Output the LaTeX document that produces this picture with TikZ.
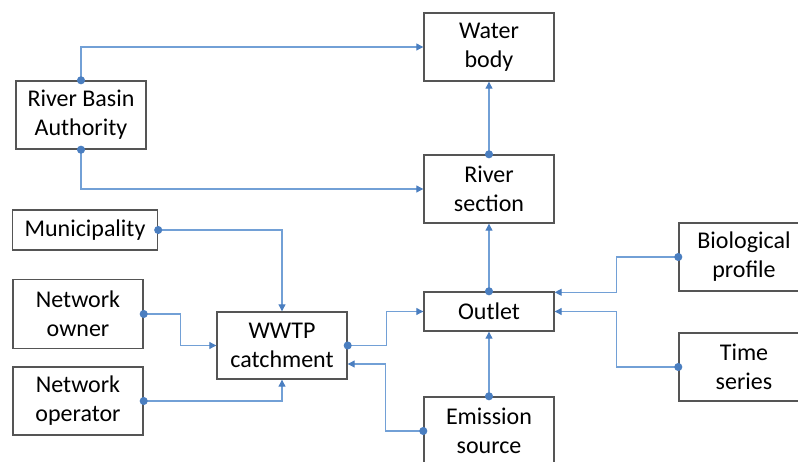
\documentclass[tikz,border=0pt]{standalone}
\usepackage{fontspec}
\setmainfont{Carlito}
\usetikzlibrary{arrows.meta}
\definecolor{conn}{HTML}{72A0D6}
\definecolor{dotc}{HTML}{4A7EC0}
\definecolor{boxline}{HTML}{555555}
\tikzset{
  box/.style={draw=boxline, line width=1.4pt, fill=white, inner sep=0pt, align=center,
    minimum width=130pt, minimum height=68pt, font=\fontsize{24}{29}\selectfont},
  link/.style={draw=conn, line width=1.1pt, shorten <=-4pt,
    {Circle[length=8pt,color=dotc]}-{Triangle[length=7pt,width=7pt,color=dotc]}},
}
\begin{document}
\begin{tikzpicture}[x=1pt,y=-1pt]
\useasboundingbox (0,0) rectangle (798,462);
\node[box] (water) at (489,47) {Water\\body};
\node[box] (rba) at (81,115) {River Basin\\Authority};
\node[box] (river) at (489,189) {River\\section};
\node[box, minimum width=145pt, minimum height=40pt] (muni) at (85,230) {Municipality};
\node[box] (bio) at (744,257) {Biological\\profile};
\node[box, minimum height=39pt] (outlet) at (489,311.5) {Outlet};
\node[box, minimum height=69pt] (owner) at (78,314) {Network\\owner};
\node[box, minimum height=67pt] (wwtp) at (282,345.5) {WWTP\\catchment};
\node[box] (ts) at (744,367) {Time\\series};
\node[box] (operator) at (78,401) {Network\\operator};
\node[box] (emission) at (489,431) {Emission\\source};

\draw[link] (rba.north) |- (water.west);
\draw[link] (rba.south) |- (river.west);
\draw[link] (river.north) -- (water.south);
\draw[link] (outlet.north) -- (river.south);
\draw[link] (muni.east) -| (wwtp.north);
\draw[link] (owner.east) -- ++(37,0) |- (wwtp.west);
\draw[link] (operator.east) -| (wwtp.south);
\draw[link] (wwtp.east) -- ++(39,0) |- (outlet.west);
\draw[link] (emission.west) -- ++(-38,0) |- ([yshift=-18.5pt]wwtp.east);
\draw[link] (emission.north) -- (outlet.south);
\draw[link] (bio.west) -- ++(-62,0) |- ([yshift=-1pt]outlet.north east);
\draw[link] (ts.west) -- ++(-62,0) |- (outlet.east);
\end{tikzpicture}
\end{document}
